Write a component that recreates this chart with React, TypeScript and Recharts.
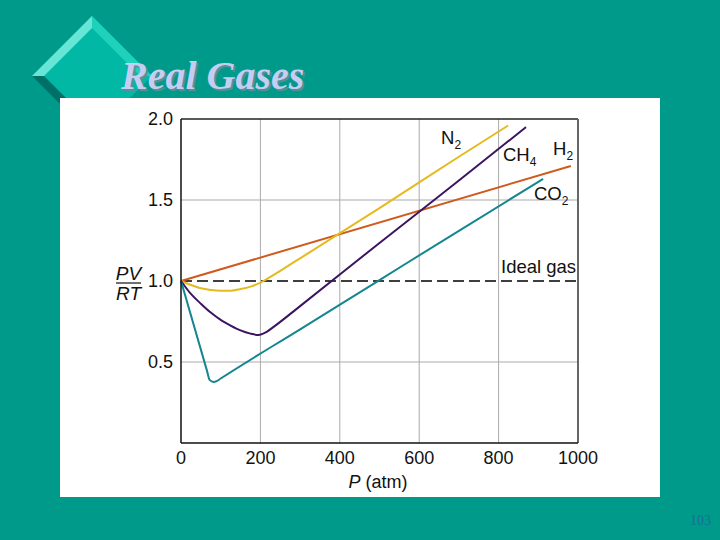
import React from 'react';
import { ComposedChart, Line, XAxis, YAxis, CartesianGrid, ReferenceLine } from 'recharts';

const xTicks = [0, 200, 400, 600, 800, 1000];
const yTicks = [0.5, 1, 1.5, 2];

const idealGas = [
  { p: 0, v: 1 },
  { p: 1000, v: 1 },
];
const h2 = [
  { p: 0, v: 1 },
  { p: 982, v: 1.71 },
];
const n2 = [
  { p: 0, v: 1 },
  { p: 25, v: 0.975 },
  { p: 50, v: 0.955 },
  { p: 75, v: 0.945 },
  { p: 100, v: 0.94 },
  { p: 125, v: 0.94 },
  { p: 150, v: 0.95 },
  { p: 175, v: 0.965 },
  { p: 200, v: 0.99 },
  { p: 225, v: 1.025 },
  { p: 250, v: 1.063 },
  { p: 300, v: 1.14 },
  { p: 500, v: 1.45 },
  { p: 700, v: 1.767 },
  { p: 824, v: 1.96 },
];
const ch4 = [
  { p: 0, v: 1 },
  { p: 25, v: 0.92 },
  { p: 50, v: 0.86 },
  { p: 75, v: 0.805 },
  { p: 100, v: 0.76 },
  { p: 125, v: 0.725 },
  { p: 150, v: 0.695 },
  { p: 175, v: 0.675 },
  { p: 195, v: 0.667 },
  { p: 215, v: 0.685 },
  { p: 235, v: 0.72 },
  { p: 300, v: 0.845 },
  { p: 500, v: 1.235 },
  { p: 700, v: 1.62 },
  { p: 869, v: 1.95 },
];
const co2 = [
  { p: 0, v: 1 },
  { p: 65, v: 0.45 },
  { p: 72, v: 0.39 },
  { p: 82, v: 0.377 },
  { p: 90, v: 0.382 },
  { p: 100, v: 0.398 },
  { p: 300, v: 0.702 },
  { p: 500, v: 1.006 },
  { p: 700, v: 1.31 },
  { p: 912, v: 1.63 },
];

const sans = '"Liberation Sans", Arial, sans-serif';
const serif = '"Liberation Serif", serif';
const tickStyle = { fontSize: 18, fill: '#111', fontFamily: sans };

function SeriesLabel({ x, y, name, sub }: { x: number; y: number; name: string; sub?: string }) {
  return (
    <text x={x} y={y} fontFamily={sans} fontSize={18.5} fill="#111">
      {name}
      {sub && (
        <tspan fontSize={12} dy={5}>
          {sub}
        </tspan>
      )}
    </text>
  );
}

export default function App() {
  return (
    <div style={{ position: 'fixed', left: 0, top: 0, width: 720, height: 540, background: '#009a8a', overflow: 'hidden' }}>
      {/* slide decoration */}
      <svg width={720} height={540} style={{ position: 'absolute', left: 0, top: 0 }}>
        <polygon points="92,16 152,76 92,136 32,76" fill="#00b8a4" />
        <polygon points="92,16 92,28 44,76 32,76" fill="#66e6d6" />
        <polygon points="92,16 152,76 140,76 92,28" fill="#1fd0bb" />
        <polygon points="32,76 44,76 92,124 92,136" fill="#006f66" />
        <rect x={60} y={98} width={600} height={399} fill="#fff" />
      </svg>
      <div
        style={{
          position: 'absolute',
          left: 121,
          top: 53,
          fontFamily: serif,
          fontWeight: 'bold',
          fontStyle: 'italic',
          fontSize: 40,
          lineHeight: '46px',
          color: '#c6cdf2',
          textShadow: '2px 2px 1px #5f8f96',
          whiteSpace: 'nowrap',
        }}
      >
        Real Gases
      </div>
      <div style={{ position: 'absolute', left: 690, top: 513, fontFamily: serif, fontSize: 14, color: '#17709a' }}>103</div>

      <div style={{ position: 'absolute', left: 0, top: 0 }}>
        <ComposedChart width={720} height={540} margin={{ top: 119, right: 142, bottom: 57, left: 180 }}>
          <CartesianGrid horizontalValues={[0.5, 1.5]} verticalValues={[200, 400, 600, 800]} stroke="#aaaaaa" strokeWidth={1} />
          <XAxis
            type="number"
            dataKey="p"
            domain={[0, 1000]}
            ticks={xTicks}
            tick={{ ...tickStyle, dy: 2 }}
            tickLine={false}
            axisLine={{ stroke: '#111', strokeWidth: 1.5 }}
            tickMargin={0}
            height={40}
            interval={0}
          />
          <YAxis
            type="number"
            dataKey="v"
            domain={[0, 2]}
            ticks={yTicks}
            tick={{ ...tickStyle, dx: -2 }}
            tickFormatter={(v: number) => v.toFixed(1)}
            tickLine={false}
            axisLine={{ stroke: '#111', strokeWidth: 1.5 }}
            tickMargin={0}
            width={1}
          />
          <ReferenceLine y={2} stroke="#222" strokeWidth={1.5} />
          <ReferenceLine x={1000} stroke="#666" strokeWidth={2} />
          <Line data={idealGas} dataKey="v" stroke="#000" strokeWidth={1.5} strokeDasharray="11 5" dot={false} activeDot={false} isAnimationActive={false} />
          <Line data={h2} dataKey="v" stroke="#cf5a1e" strokeWidth={2} dot={false} activeDot={false} isAnimationActive={false} />
          <Line data={n2} dataKey="v" type="monotone" stroke="#e4ba1e" strokeWidth={2} dot={false} activeDot={false} isAnimationActive={false} />
          <Line data={ch4} dataKey="v" type="monotone" stroke="#3c1560" strokeWidth={2} dot={false} activeDot={false} isAnimationActive={false} />
          <Line data={co2} dataKey="v" type="monotone" stroke="#14868f" strokeWidth={2} dot={false} activeDot={false} isAnimationActive={false} />
        </ComposedChart>
      </div>

      {/* series and axis labels */}
      <svg width={720} height={540} style={{ position: 'absolute', left: 0, top: 0 }}>
        <SeriesLabel x={441} y={144} name="N" sub="2" />
        <SeriesLabel x={503} y={161} name="CH" sub="4" />
        <SeriesLabel x={553} y={155} name="H" sub="2" />
        <SeriesLabel x={534} y={200} name="CO" sub="2" />
        <SeriesLabel x={501} y={273} name="Ideal gas" />
        <text x={128.5} y={280} textAnchor="middle" fontFamily={sans} fontStyle="italic" fontSize={19} fill="#111">PV</text>
        <line x1={116} x2={141} y1={283} y2={283} stroke="#111" strokeWidth={1.2} />
        <text x={128.5} y={300} textAnchor="middle" fontFamily={sans} fontStyle="italic" fontSize={19} fill="#111">RT</text>
        <text x={378} y={488} textAnchor="middle" fontFamily={sans} fontSize={18} fill="#111">
          <tspan fontStyle="italic">P</tspan> (atm)
        </text>
      </svg>
    </div>
  );
}
